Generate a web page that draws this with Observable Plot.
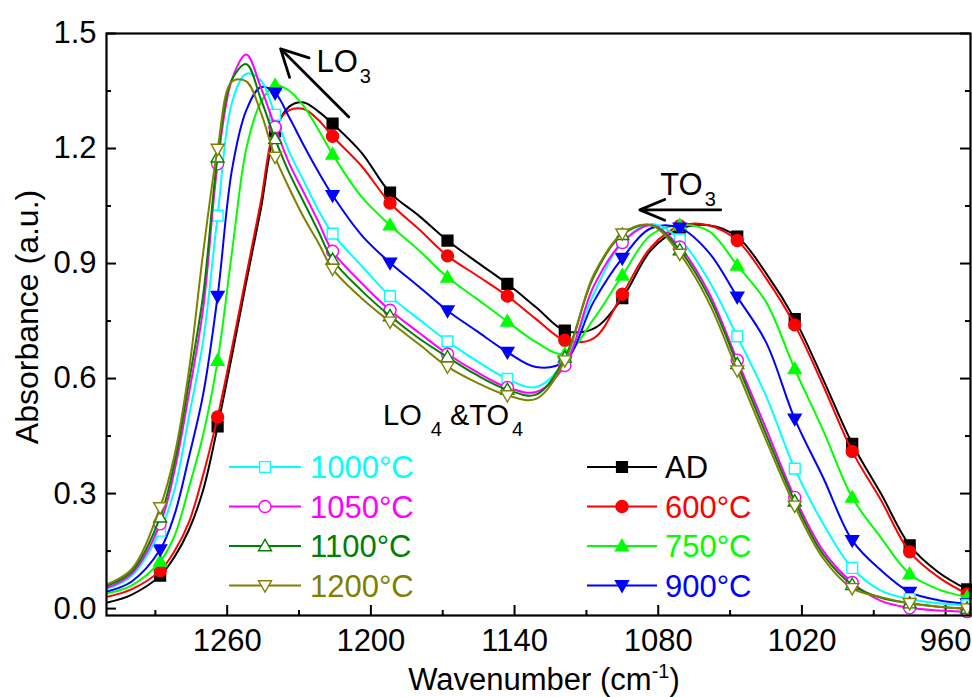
<!DOCTYPE html>
<html><head><meta charset="utf-8">
<script src="https://cdn.jsdelivr.net/npm/d3@7"></script>
<script src="https://cdn.jsdelivr.net/npm/@observablehq/plot@0.6"></script>
<style>
body{margin:0;background:#fff;}
#chart svg{display:block;}
</style></head><body><div id="chart"></div>
<script>
// ---- data (wavenumber grid in cm^-1, absorbance a.u.) ----
const wavenumbers = [1310,1300,1288,1282,1276,1270,1264,1258,1252,1246,1240,1234,1228,1222,1216,1204,1192,1180,1168,1156,1143,1131,1119,1107,1095,1083,1071,1059,1047,1035,1023,1011,999,987,975,963,951];
const markerWavenumbers = [1288,1264,1240,1216,1192,1168,1143,1119,1095,1071,1047,1023,999,975,951];
const seriesNames = ["AD","600°C","750°C","900°C","1000°C","1050°C","1100°C","1200°C"];
const absAD   = [0.016,0.036,0.086,0.135,0.205,0.31,0.475,0.66,0.853,1.04,1.245,1.31,1.32,1.297,1.265,1.19,1.085,1.025,0.96,0.905,0.847,0.786,0.725,0.73,0.81,0.935,0.99,1.0,0.97,0.875,0.755,0.596,0.43,0.30,0.165,0.095,0.05];
const abs600  = [0.031,0.05,0.099,0.15,0.225,0.35,0.50,0.68,0.87,1.06,1.255,1.30,1.303,1.275,1.232,1.155,1.058,0.99,0.92,0.87,0.815,0.755,0.70,0.705,0.82,0.943,0.998,1.0,0.96,0.862,0.74,0.58,0.41,0.283,0.148,0.082,0.038];
const abs750  = [0.040,0.06,0.123,0.19,0.315,0.455,0.647,0.93,1.20,1.32,1.365,1.35,1.31,1.25,1.185,1.075,1.0,0.935,0.864,0.809,0.749,0.695,0.664,0.755,0.869,0.975,1.0,0.985,0.895,0.80,0.625,0.463,0.29,0.185,0.09,0.05,0.03];
const abs900  = [0.045,0.07,0.154,0.245,0.395,0.56,0.815,1.145,1.30,1.36,1.345,1.28,1.208,1.14,1.078,0.975,0.902,0.84,0.777,0.725,0.669,0.63,0.645,0.80,0.914,0.992,0.993,0.93,0.813,0.695,0.495,0.34,0.178,0.10,0.043,0.022,0.013];
const abs1000 = [0.052,0.085,0.203,0.31,0.50,0.70,1.025,1.32,1.395,1.378,1.288,1.19,1.115,1.04,0.978,0.895,0.815,0.755,0.697,0.647,0.599,0.578,0.645,0.82,0.955,1.003,0.963,0.857,0.71,0.555,0.365,0.22,0.106,0.047,0.025,0.014,0.009];
const abs1050 = [0.055,0.09,0.221,0.36,0.56,0.785,1.16,1.38,1.445,1.36,1.256,1.16,1.085,1.01,0.932,0.85,0.778,0.72,0.664,0.618,0.577,0.565,0.634,0.84,0.955,1.0,0.943,0.826,0.648,0.47,0.29,0.15,0.068,0.02,0.002,-0.005,-0.008];
const abs1100 = [0.06,0.096,0.238,0.38,0.59,0.82,1.177,1.38,1.42,1.33,1.225,1.135,1.06,0.985,0.91,0.83,0.763,0.705,0.656,0.61,0.571,0.558,0.655,0.865,0.975,1.0,0.935,0.815,0.638,0.455,0.28,0.14,0.062,0.028,0.014,0.005,0.0];
const abs1200 = [0.064,0.102,0.264,0.40,0.62,0.93,1.199,1.375,1.375,1.295,1.178,1.095,1.02,0.955,0.886,0.81,0.748,0.69,0.631,0.59,0.556,0.547,0.647,0.87,0.978,1.0,0.925,0.80,0.621,0.44,0.268,0.13,0.053,0.03,0.014,0.005,0.0];
const seriesValues = [absAD,abs600,abs750,abs900,abs1000,abs1050,abs1100,abs1200];
const seriesColors = ["#000000","#ff0000","#00ff00","#0000ff","#00ffff","#ff00ff","#008000","#808000"];
const seriesShapes = ["square","circle","up","down","square","circle","up","down"];
const seriesFilled = [true,true,true,true,false,false,false,false];

const xTicks = [1260,1200,1140,1080,1020,960];
const xMinorTicks = [1290,1230,1170,1110,1050,990];
const yTicks = [0,0.3,0.6,0.9,1.2,1.5];
const yMinorTicks = [0.15,0.45,0.75,1.05,1.35];

const arrowLO3 = [{x1:1209.2, y1:1.282, x2:1237.7, y2:1.460}];
const arrowTO3 = [{x1:1053.9, y1:1.040, x2:1087.7, y2:1.040}];
const labelLO3 = {wn:1222.5, v:1.399};
const labelTO3 = {wn:1079.0, v:1.0775};
const labelLO4 = {wn:1194.7, v:0.4774};

// ---- symbols ----
const shapes = {
  square:{draw(c,s){const r=Math.sqrt(s/Math.PI)*0.9;c.moveTo(-r,-r);c.lineTo(r,-r);c.lineTo(r,r);c.lineTo(-r,r);c.closePath();}},
  circle:{draw(c,s){const r=Math.sqrt(s/Math.PI);c.moveTo(r,0);c.arc(0,0,r,0,2*Math.PI);c.closePath();}},
  up:{draw(c,s){const r=Math.sqrt(s/Math.PI);c.moveTo(0,-r*1.1);c.lineTo(r*1.08,r*0.78);c.lineTo(-r*1.08,r*0.78);c.closePath();}},
  down:{draw(c,s){const r=Math.sqrt(s/Math.PI);c.moveTo(0,r*1.1);c.lineTo(r*1.08,-r*0.78);c.lineTo(-r*1.08,-r*0.78);c.closePath();}}
};

const W=972,H=697,mL=106,mR=2,mT=33,mB=82;
const innerW=W-mL-mR, innerH=H-mT-mB;

const seriesMarks = seriesNames.flatMap((name,s)=>{
  const rows = wavenumbers.map((wn,i)=>({wn, v:seriesValues[s][i]}));
  const mrows = rows.filter(d=>markerWavenumbers.includes(d.wn));
  return [
    Plot.line(rows,{x:"wn",y:"v",stroke:seriesColors[s],strokeWidth:2,curve:"catmull-rom"}),
    Plot.dot(mrows,{x:"wn",y:"v",symbol:shapes[seriesShapes[s]],r:6,
      fill: seriesFilled[s]?seriesColors[s]:"white", stroke:seriesColors[s], strokeWidth:1.4})
  ];
});

const plot = Plot.plot({
  width:W, height:H, marginLeft:mL, marginRight:mR, marginTop:mT, marginBottom:mB,
  style:{fontFamily:"'Liberation Sans', Arial, sans-serif", fontSize:"31px", background:"white", color:"black"},
  x:{domain:[1310.4,949.6]},
  y:{domain:[-0.018,1.5]},
  marks:[
    Plot.axisX(xTicks,{anchor:"bottom",tickSize:0,tickPadding:13,label:null,fontSize:31,tickFormat:d=>String(d)}),
    Plot.axisY(yTicks,{anchor:"left",tickSize:0,tickPadding:10,label:null,fontSize:31,tickFormat:d3.format(".1f")}),
    Plot.ruleX(xTicks,{x:d=>d,insetTop:innerH-10,stroke:"black",strokeWidth:2}),
    Plot.ruleX(xMinorTicks,{x:d=>d,insetTop:innerH-5,stroke:"black",strokeWidth:2}),
    Plot.ruleY(yTicks,{y:d=>d,insetRight:innerW-10,stroke:"black",strokeWidth:2}),
    Plot.ruleY(yMinorTicks,{y:d=>d,insetRight:innerW-5,stroke:"black",strokeWidth:2}),
    Plot.ruleY(yTicks,{y:d=>d,insetLeft:innerW-10,stroke:"black",strokeWidth:2}),
    Plot.ruleY(yMinorTicks,{y:d=>d,insetLeft:innerW-5,stroke:"black",strokeWidth:2}),
    ...seriesMarks,
    Plot.arrow(arrowLO3,{x1:"x1",y1:"y1",x2:"x2",y2:"y2",stroke:"black",strokeWidth:2.8,headLength:16,headAngle:55}),
    Plot.arrow(arrowTO3,{x1:"x1",y1:"y1",x2:"x2",y2:"y2",stroke:"black",strokeWidth:2.8,headLength:16,headAngle:45}),
    Plot.frame({stroke:"black",strokeWidth:2.2})
  ]
});
document.getElementById("chart").appendChild(plot);

const svg = d3.select(plot);
const sx = plot.scale("x"), sy = plot.scale("y");
const font = "'Liberation Sans', Arial, sans-serif";

function subLabel(pos, parts, size){
  const t = svg.append("text").attr("x",sx.apply(pos.wn)).attr("y",sy.apply(pos.v))
    .attr("text-anchor","start")
    .attr("font-family",font).attr("font-size",size).attr("fill","black");
  let shift=0;
  parts.forEach(p=>{
    const ts=t.append("tspan").text(p.text);
    if(p.sub){ts.attr("font-size",20).attr("dy",11-shift).attr("dx",p.dx||0);shift=11;}
    else {ts.attr("dy",-shift).attr("dx",p.dx||0);shift=0;}
  });
}
subLabel(labelLO3,[{text:"LO"},{text:"3",sub:true,dx:2}],31);
subLabel(labelTO3,[{text:"TO"},{text:"3",sub:true,dx:2}],31);
subLabel(labelLO4,[{text:"LO"},{text:"4",sub:true,dx:9},{text:" &TO"},{text:"4",sub:true,dx:3}],29);

// axis titles
svg.append("text").attr("transform","translate(38,317) rotate(-90)").attr("text-anchor","middle")
  .attr("font-family",font).attr("font-size",32).attr("fill","black").text("Absorbance (a.u.)");
const xl = svg.append("text").attr("x",544).attr("y",690).attr("text-anchor","middle")
  .attr("font-family",font).attr("font-size",31).attr("fill","black");
xl.append("tspan").text("Wavenumber (cm");
xl.append("tspan").attr("font-size",20).attr("dy",-12).text("-1");
xl.append("tspan").attr("dy",12).text(")");

// legend
const legendCols = [
  {series:[4,5,6,7], x1:229, x2:301, xs:265, xt:310},
  {series:[0,1,2,3], x1:587, x2:657, xs:622, xt:665}
];
const rowY = [467,506.5,546,585.5];
const lg = svg.append("g");
legendCols.forEach(col=>{
  col.series.forEach((s,k)=>{
    const y=rowY[k];
    lg.append("line").attr("x1",col.x1).attr("x2",col.x2).attr("y1",y).attr("y2",y)
      .attr("stroke",seriesColors[s]).attr("stroke-width",2);
    lg.append("path").attr("d",d3.symbol(shapes[seriesShapes[s]],36*Math.PI)())
      .attr("transform",`translate(${col.xs},${y})`)
      .attr("fill",seriesFilled[s]?seriesColors[s]:"white").attr("stroke",seriesColors[s]).attr("stroke-width",1.4);
    lg.append("text").attr("x",col.xt).attr("y",y+11).attr("text-anchor","start")
      .attr("font-family",font).attr("font-size",31)
      .attr("fill",seriesColors[s]).text(seriesNames[s]);
  });
});
</script></body></html>
